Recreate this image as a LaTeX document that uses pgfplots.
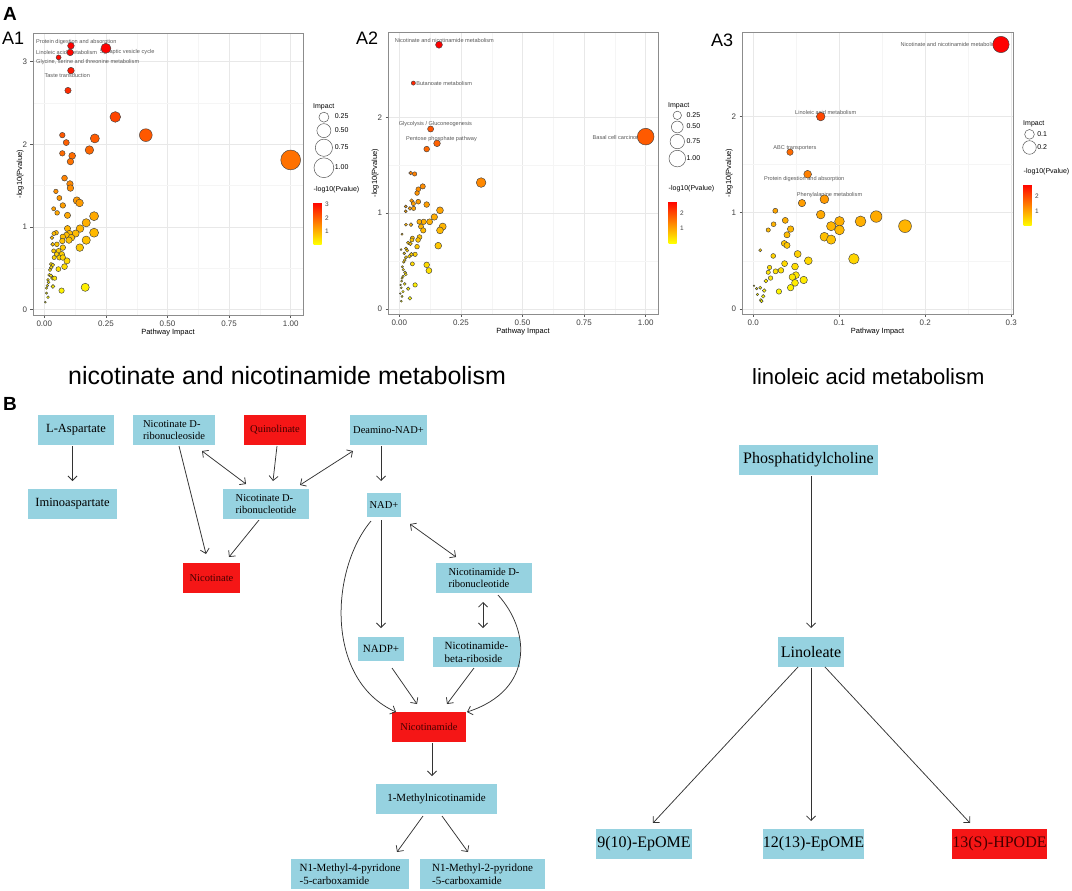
\documentclass[border=0pt]{standalone}
\usepackage{fontspec}
\setmainfont{Liberation Sans}
\newfontfamily\tnr{Liberation Serif}
\usepackage{pgfplots}
\pgfplotsset{compat=1.18}
\usepackage{pgfplotstable}
\usetikzlibrary{arrows.meta,calc}

\definecolor{nblue}{RGB}{150,210,224}
\definecolor{nred}{RGB}{245,22,22}
\definecolor{ntxt}{RGB}{70,0,0}

% A1: pathway impact, -log10(p)
\pgfplotstableread{
x y
0.108 3.19
0.250 3.16
0.105 3.11
0.058 3.05
0.108 2.89
0.096 2.65
0.288 2.33
0.412 2.11
0.205 2.07
0.073 2.11
0.089 2.02
0.183 1.93
0.073 1.89
0.113 1.86
0.106 1.79
1.000 1.81
0.082 1.59
0.104 1.52
0.106 1.47
0.047 1.43
0.061 1.35
0.075 1.26
0.132 1.32
0.143 1.29
0.038 1.22
0.052 1.17
0.094 1.14
0.202 1.13
0.170 1.05
0.145 0.98
0.202 0.93
0.094 0.98
0.127 0.92
0.102 0.92
0.090 0.90
0.075 0.88
0.048 0.93
0.039 0.92
0.031 0.87
0.110 0.87
0.100 0.84
0.073 0.83
0.170 0.84
0.034 0.79
0.051 0.79
0.075 0.75
0.144 0.75
0.038 0.71
0.058 0.71
0.071 0.67
0.050 0.67
0.040 0.63
0.061 0.63
0.075 0.63
0.092 0.59
0.027 0.55
0.034 0.54
0.028 0.51
0.082 0.52
0.057 0.49
0.023 0.48
0.020 0.42
0.027 0.41
0.034 0.38
0.042 0.38
0.015 0.36
0.017 0.33
0.012 0.29
0.035 0.28
0.009 0.26
0.166 0.27
0.070 0.23
0.015 0.15
0.009 0.20
0.004 0.09
}\tA

% A2
\pgfplotstableread{
x y
0.161 2.76
0.057 2.36
0.127 1.88
0.153 1.73
0.111 1.67
1.000 1.80
0.332 1.32
0.046 1.42
0.062 1.41
0.095 1.28
0.077 1.25
0.072 1.21
0.050 1.13
0.077 1.12
0.057 1.10
0.111 1.09
0.026 1.07
0.043 1.05
0.058 1.05
0.026 1.02
0.165 1.03
0.142 0.96
0.123 0.91
0.099 0.91
0.081 0.91
0.176 0.86
0.047 0.88
0.027 0.88
0.088 0.86
0.097 0.82
0.165 0.82
0.011 0.78
0.082 0.75
0.053 0.74
0.051 0.72
0.076 0.72
0.036 0.69
0.045 0.68
0.072 0.65
0.158 0.66
0.027 0.63
0.007 0.62
0.032 0.61
0.020 0.58
0.064 0.57
0.049 0.57
0.041 0.55
0.027 0.54
0.022 0.51
0.018 0.49
0.053 0.47
0.111 0.46
0.120 0.40
0.012 0.44
0.016 0.41
0.023 0.38
0.026 0.36
0.015 0.34
0.011 0.32
0.009 0.29
0.022 0.26
0.005 0.25
0.064 0.25
0.008 0.22
0.036 0.21
0.015 0.18
0.004 0.16
0.011 0.13
0.043 0.11
0.008 0.08
}\tB

% A3
\pgfplotstableread{
x y
0.2880 2.75
0.0785 2.00
0.0428 1.63
0.0633 1.40
0.0828 1.14
0.0567 1.10
0.0257 1.02
0.0785 0.98
0.1430 0.96
0.1003 0.91
0.1248 0.91
0.0373 0.92
0.1765 0.86
0.0906 0.86
0.0237 0.88
0.1003 0.82
0.0435 0.83
0.0175 0.82
0.0393 0.77
0.0828 0.75
0.0906 0.72
0.0361 0.68
0.0393 0.66
0.0082 0.61
0.1170 0.52
0.0517 0.57
0.0233 0.55
0.0641 0.50
0.0365 0.47
0.0486 0.44
0.0190 0.43
0.0323 0.40
0.0260 0.39
0.0175 0.38
0.0497 0.35
0.0455 0.33
0.0202 0.32
0.0587 0.30
0.0148 0.29
0.0486 0.27
0.0435 0.22
0.0299 0.18
0.0082 0.22
0.0128 0.19
0.0050 0.15
0.0117 0.13
0.0089 0.09
0.0097 0.08
0.0010 0.24
0.0040 0.21
}\tC

\pgfplotsset{
  bub/.style={
    scale only axis, width=270pt, height=282pt,
    /pgf/number format/assume math mode=true,
    axis line style={draw=black!45, line width=0.7pt},
    grid=both,
    major grid style={draw=black!9, line width=0.6pt},
    minor grid style={draw=black!4, line width=0.4pt},
    minor tick num=1, minor tick length=0pt,
    tick align=outside, major tick length=2.5pt,
    tick style={draw=black!65, line width=0.5pt},
    xtick pos=bottom, ytick pos=left,
    ticklabel style={font=\fontsize{8}{9}\selectfont, text=black!75},
    label style={font=\fontsize{7.5}{9}\selectfont},
    xlabel={Pathway Impact}, ylabel={-log10(Pvalue)},
    xlabel style={yshift=4pt}, ylabel style={yshift=-8pt},
    clip=false,
    colormap={yr}{rgb255=(255,255,0) rgb255=(255,0,0)},
    legend style={draw=none, fill=none, inner sep=0pt, row sep=1.5pt,
      font=\fontsize{7}{8}\selectfont, nodes={inner sep=1pt}},
    legend cell align=left,
  },
  bubble/.style={scatter, only marks, mark=*, forget plot,
    point meta=\thisrow{y},
    scatter/use mapped color={draw=black!75, fill=mapped color},
    scatter/@pre marker code/.append style={/tikz/mark size=\rad},
    mark options={line width=0.45pt}},
  key/.style={only marks, mark=*, mark size=#1,
    mark options={fill=white, draw=black!65, line width=0.5pt}},
  cb/.style={anchor=north west, width=8pt, scale only axis,
    /pgf/number format/assume math mode=true,
    axis line style={draw=none}, major tick length=0pt,
    yticklabel pos=right,
    ticklabel style={font=\fontsize{6.5}{7}\selectfont, text=black!75},
    title={-log10(Pvalue)},
    title style={at={(0,1)}, anchor=south west, inner sep=0pt, yshift=2.5pt,
      font=\fontsize{7}{8}\selectfont}},
}
\newcommand{\anno}{\fontsize{5.6}{6}\selectfont\color{black!65}}

\begin{document}
\begin{tikzpicture}
\path[use as bounding box] (0pt,0pt) rectangle (1072pt,-891pt);

% ---------- A1 ----------
\begin{axis}[bub, at={(33pt,-315pt)}, anchor=south west,
  xmin=-0.046, xmax=1.05, ymin=-0.065, ymax=3.345,
  xtick={0,0.25,0.5,0.75,1}, ytick={0,1,2,3},
  xticklabel style={/pgf/number format/.cd, fixed, fixed zerofill, precision=2},
  point meta min=0.09, point meta max=3.19,
  colorbar, colorbar style={cb, at={($(parent axis.north east)+(2pt,-169pt)$)},
    height=42pt, ytick={1,2,3}},
  legend style={at={(1.04,0.72)}, anchor=north west}]
\addplot[bubble, visualization depends on={sqrt(0.5+98*\thisrow{x}) \as \rad}] table {\tA};
\addlegendimage{key=5}\addlegendentry{0.25}
\addlegendimage{key=7}\addlegendentry{0.50}
\addlegendimage{key=8.6}\addlegendentry{0.75}
\addlegendimage{key=9.9}\addlegendentry{1.00}
\node[anchor=west, inner sep=0pt, font=\anno] at (axis cs:-0.034,3.23) {Protein digestion and absorption};
\node[anchor=west, inner sep=0pt, font=\anno] at (axis cs:-0.034,3.11) {Linoleic acid metabolism};
\node[anchor=west, inner sep=0pt, font=\anno] at (axis cs:0.225,3.11) {Synaptic vesicle cycle};
\node[anchor=west, inner sep=0pt, font=\anno] at (axis cs:-0.034,2.99) {Glycine, serine and threonine metabolism};
\node[anchor=west, inner sep=0pt, font=\anno] at (axis cs:0.0,2.83) {Taste transduction};
\node[anchor=west, inner sep=0pt, font=\fontsize{7}{8}\selectfont] at (axis description cs:1.037,0.738) {Impact};
\end{axis}

% ---------- A2 ----------
\begin{axis}[bub, at={(388pt,-314pt)}, anchor=south west,
  xmin=-0.046, xmax=1.05, ymin=-0.054, ymax=2.894,
  xtick={0,0.25,0.5,0.75,1}, ytick={0,1,2},
  xticklabel style={/pgf/number format/.cd, fixed, fixed zerofill, precision=2},
  point meta min=0.08, point meta max=2.76,
  colorbar, colorbar style={cb, at={($(parent axis.north east)+(2pt,-169pt)$)},
    height=42pt, ytick={1,2}},
  legend style={at={(1.04,0.72)}, anchor=north west}]
\addplot[bubble, visualization depends on={sqrt(0.5+69*\thisrow{x}) \as \rad}] table {\tB};
\addlegendimage{key=4.2}\addlegendentry{0.25}
\addlegendimage{key=5.9}\addlegendentry{0.50}
\addlegendimage{key=7.2}\addlegendentry{0.75}
\addlegendimage{key=8.3}\addlegendentry{1.00}
\node[anchor=west, inner sep=0pt, font=\anno] at (axis cs:-0.019,2.80) {Nicotinate and nicotinamide metabolism};
\node[anchor=west, inner sep=0pt, font=\anno] at (axis cs:0.068,2.36) {Butanoate metabolism};
\node[anchor=west, inner sep=0pt, font=\anno] at (axis cs:-0.003,1.93) {Glycolysis / Gluconeogenesis};
\node[anchor=west, inner sep=0pt, font=\anno] at (axis cs:0.027,1.78) {Pentose phosphate pathway};
\node[anchor=west, inner sep=0pt, font=\anno] at (axis cs:0.784,1.79) {Basal cell carcinoma};
\node[anchor=west, inner sep=0pt, font=\fontsize{7}{8}\selectfont] at (axis description cs:1.037,0.737) {Impact};
\end{axis}

% ---------- A3 ----------
\begin{axis}[bub, at={(742pt,-314pt)}, anchor=south west, width=271pt,
  xmin=-0.013, xmax=0.302, ymin=-0.054, ymax=2.88,
  xtick={0,0.1,0.2,0.3}, ytick={0,1,2},
  xticklabel style={/pgf/number format/.cd, fixed, fixed zerofill, precision=1},
  point meta min=0.08, point meta max=2.75,
  colorbar, colorbar style={cb, at={($(parent axis.north east)+(2pt,-152pt)$)},
    height=42pt, ytick={1,2}},
  legend style={at={(1.035,0.655)}, anchor=north west}]
\addplot[bubble, visualization depends on={sqrt(0.5+230*\thisrow{x}) \as \rad}] table {\tC};
\addlegendimage{key=4.85}\addlegendentry{0.1}
\addlegendimage{key=6.8}\addlegendentry{0.2}
\node[anchor=west, inner sep=0pt, font=\anno] at (axis cs:0.171,2.75) {Nicotinate and nicotinamide metabolism};
\node[anchor=west, inner sep=0pt, font=\anno] at (axis cs:0.0486,2.045) {Linoleic acid metabolism};
\node[anchor=west, inner sep=0pt, font=\anno] at (axis cs:0.0233,1.675) {ABC transporters};
\node[anchor=west, inner sep=0pt, font=\anno] at (axis cs:0.0124,1.35) {Protein digestion and absorption};
\node[anchor=west, inner sep=0pt, font=\anno] at (axis cs:0.0505,1.187) {Phenylalanine metabolism};
\node[anchor=west, inner sep=0pt, font=\fontsize{7}{8}\selectfont] at (axis description cs:1.037,0.676) {Impact};
\end{axis}

% ---------- labels and pathway diagrams ----------
\begin{scope}[x=1pt, y=-1pt,
  bl/.style={fill=nblue, inner sep=0pt, minimum height=30pt,
    font=\tnr\fontsize{10.5}{12}\selectfont, text=black, align=left},
  rd/.style={bl, fill=nred, text=ntxt},
  big/.style={font=\tnr\fontsize{16}{18}\selectfont},
  arr/.style={draw=black!80, line width=0.75pt, -{Straight Barb[length=4.5pt,width=9pt]}},
  darr/.style={draw=black!80, line width=0.75pt,
    {Straight Barb[length=4.5pt,width=9pt]}-{Straight Barb[length=4.5pt,width=9pt]}}]
\node[anchor=base west, inner sep=0pt, font=\bfseries\fontsize{19}{20}\selectfont] at (3,21) {A};
\node[anchor=base west, inner sep=0pt, font=\fontsize{18}{20}\selectfont] at (2,45) {A1};
\node[anchor=base west, inner sep=0pt, font=\fontsize{18}{20}\selectfont] at (356,45) {A2};
\node[anchor=base west, inner sep=0pt, font=\fontsize{18}{20}\selectfont] at (711,47) {A3};
\node[anchor=base west, inner sep=0pt, font=\fontsize{25}{28}\selectfont] at (68,384) {nicotinate and nicotinamide metabolism};
\node[anchor=base west, inner sep=0pt, font=\fontsize{22}{26}\selectfont] at (752,384) {linoleic acid metabolism};
\node[anchor=base west, inner sep=0pt, font=\bfseries\fontsize{19}{20}\selectfont] at (3,410) {B};

% nicotinate and nicotinamide metabolism
\node[bl, minimum width=76pt, font=\tnr\fontsize{12.5}{14}\selectfont] at (76,430) {L-Aspartate};
\node[bl, minimum width=89pt, font=\tnr\fontsize{12.5}{14}\selectfont] at (72.5,504) {Iminoaspartate};
\node[bl, minimum width=82pt] at (174,430) {Nicotinate D-\\ribonucleoside};
\node[rd, minimum width=62pt] at (275,430) {Quinolinate};
\node[bl, minimum width=77pt] at (388.5,430) {Deamino-NAD+};
\node[bl, minimum width=86pt] at (266,504) {Nicotinate D-\\ribonucleotide};
\node[bl, minimum width=34pt, minimum height=24pt] at (384,505) {NAD+};
\node[rd, minimum width=57pt] at (211.5,578) {Nicotinate};
\node[bl, minimum width=96pt] at (484,578) {Nicotinamide D-\\ribonucleotide};
\node[bl, minimum width=46pt, minimum height=24pt, font=\tnr\fontsize{11}{12.5}\selectfont] at (381,649) {NADP+};
\node[bl, minimum width=87pt, font=\tnr\fontsize{11}{12.5}\selectfont] at (476.5,652) {Nicotinamide-\\beta-riboside};
\node[rd, minimum width=74pt] at (429,727) {Nicotinamide};
\node[bl, minimum width=121pt, font=\tnr\fontsize{11}{12.5}\selectfont] at (436.5,799) {1-Methylnicotinamide};
\node[bl, minimum width=118pt, font=\tnr\fontsize{11}{12.5}\selectfont] at (350,874) {N1-Methyl-4-pyridone\\-5-carboxamide};
\node[bl, minimum width=125pt, font=\tnr\fontsize{11}{12.5}\selectfont] at (482.5,874) {N1-Methyl-2-pyridone\\-5-carboxamide};

\draw[arr] (72.5,446) -- (72.5,481);
\draw[arr] (179,446) -- (206,554);
\draw[darr] (202,451) -- (246,484);
\draw[arr] (277,446) -- (273,481);
\draw[darr] (353,451) -- (300,485);
\draw[arr] (381,446) -- (381,481);
\draw[arr] (259,520) -- (229,557);
\draw[arr] (381,520) -- (381,628);
\draw[darr] (410,524) -- (456,557);
\draw[arr] (371,521) .. controls (330,570) and (325,680) .. (396,712);
\draw[arr] (498,595) .. controls (530,630) and (535,690) .. (467,712);
\draw[darr] (483,602) -- (483,628);
\draw[arr] (392,668) -- (417,704);
\draw[arr] (474,668) -- (447,704);
\draw[arr] (432,743) -- (432,776);
\draw[arr] (423,816) -- (397,852);
\draw[arr] (442,816) -- (468,852);

% linoleic acid metabolism
\node[bl, big, minimum width=139pt] at (808.5,460) {Phosphatidylcholine};
\node[bl, big, minimum width=66pt] at (811,652) {Linoleate};
\node[bl, big, minimum width=96pt] at (644,844) {9(10)-EpOME};
\node[bl, big, minimum width=99pt] at (813.5,844) {12(13)-EpOME};
\node[rd, big, minimum width=95pt] at (999.5,844) {13(S)-HPODE};
\draw[arr] (811,476) -- (811,628);
\draw[arr] (798,667) -- (653,823);
\draw[arr] (811,668) -- (811,821);
\draw[arr] (825,667) -- (970,823);
\end{scope}
\end{tikzpicture}
\end{document}
